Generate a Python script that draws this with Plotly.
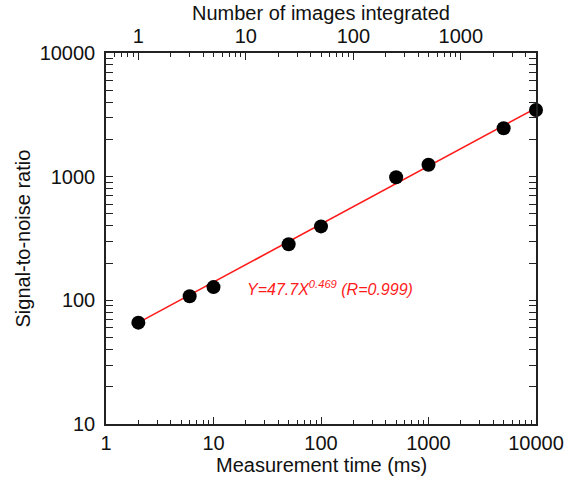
import numpy as np
import plotly.graph_objects as go

time_ms = [2, 6, 10, 50, 100, 500, 1000, 5000, 10000]
snr = [66, 108, 128, 284, 396, 990, 1250, 2460, 3460]
fit_a = 47.7
fit_b = 0.469
fit_label = "<i>Y=47.7X<sup>0.469</sup> (R=0.999)</i>"
ms_per_image = 2

x_ticks = [1, 10, 100, 1000, 10000]
top_ticks = [1, 10, 100, 1000]
y_ticks = [10, 100, 1000, 10000]


def minor_vals(lo_exp, hi_exp):
    return [m * 10 ** e for e in range(lo_exp, hi_exp) for m in range(2, 10)]


fit_x = [2, 10000]
fit_y = [fit_a * v ** fit_b for v in fit_x]

FONT = "Liberation Sans, Arial, sans-serif"
AX = "#222222"
TXT = "#111111"

fig = go.Figure()
fig.add_trace(go.Scatter(x=fit_x, y=fit_y, mode="lines", cliponaxis=False,
                         line=dict(color="#ff1a1a", width=1.6), showlegend=False))
fig.add_trace(go.Scatter(x=time_ms, y=snr, mode="markers", cliponaxis=False,
                         marker=dict(color="black", size=14), showlegend=False))
# invisible trace for top axis
fig.add_trace(go.Scatter(x=[t / ms_per_image for t in time_ms], y=snr, xaxis="x2",
                         mode="markers", marker=dict(opacity=0), showlegend=False,
                         hoverinfo="skip"))


def axis(tv, mv, **kw):
    return dict(type="log", showgrid=False, zeroline=False, showline=True, automargin=False,
                linecolor=AX, linewidth=1.5, ticks="inside", ticklen=7, tickwidth=1.3,
                tickcolor=AX, tickfont=dict(family=FONT, size=20, color=TXT),
                ticklabeloverflow="allow",
                tickvals=tv, ticktext=[str(v) for v in tv],
                minor=dict(ticks="inside", ticklen=4, tickwidth=1, tickcolor=AX,
                           showgrid=False, tickvals=mv),
                **kw)


fig.update_layout(
    width=566, height=480,
    margin=dict(l=106, r=30, t=53, b=56),
    paper_bgcolor="white", plot_bgcolor="white",
    xaxis=axis(x_ticks, minor_vals(0, 4), range=[0, 4], ticklabelstandoff=0),
    xaxis2=axis(top_ticks, minor_vals(-1, 4),
                range=[np.log10(1 / ms_per_image), np.log10(10000 / ms_per_image)],
                overlaying="x", side="top", anchor="y", ticklabelstandoff=0),
    yaxis=axis(y_ticks, minor_vals(1, 4), range=[1, 4], mirror="allticks", ticklabelstandoff=5),
    annotations=[
        dict(x=np.log10(19.6), y=np.log10(125.7), xref="x", yref="y",
             text=fit_label, showarrow=False, xanchor="left", yanchor="middle",
             font=dict(family=FONT, size=16, color="#ff1a1a")),
        dict(x=0.5, y=-(465 - 424) / 371, xref="paper", yref="paper",
             text="Measurement time (ms)", showarrow=False, xanchor="center", yanchor="middle",
             font=dict(family=FONT, size=20, color=TXT)),
        dict(x=0.5, y=1 + (53 - 12.7) / 371, xref="paper", yref="paper",
             text="Number of images integrated", showarrow=False, xanchor="center", yanchor="middle",
             font=dict(family=FONT, size=20, color=TXT)),
        dict(x=-(106 - 22) / 430, y=0.5, xref="paper", yref="paper", textangle=-90,
             text="Signal-to-noise ratio", showarrow=False, xanchor="center", yanchor="middle",
             font=dict(family=FONT, size=20, color=TXT)),
    ],
)
fig.write_html("out.html")
